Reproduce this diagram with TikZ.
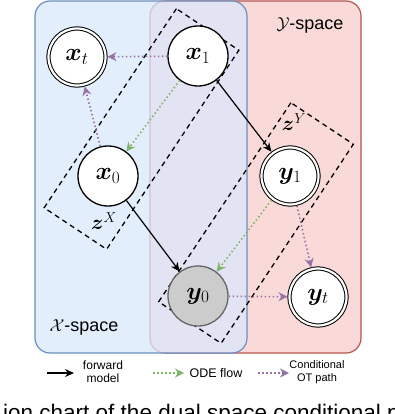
\documentclass[tikz,border=0pt]{standalone}
\usepackage{fontspec}
\setsansfont{Liberation Sans}
\usepackage{amsmath,bm}
\usetikzlibrary{arrows.meta,positioning}
\definecolor{xbg}{HTML}{DAE8FC}
\definecolor{xline}{HTML}{6C8EBF}
\definecolor{ybg}{HTML}{F8CECC}
\definecolor{yline}{HTML}{B85450}
\definecolor{odec}{HTML}{82B366}
\definecolor{otc}{HTML}{9673A6}
\definecolor{obsc}{HTML}{CCCCCC}
\definecolor{obsline}{HTML}{666666}
\tikzset{
  var/.style={circle,draw=black,line width=1.3pt,fill=white,minimum size=60pt,inner sep=0pt,font=\fontsize{26}{30}\selectfont},
  dvar/.style={var,line width=1pt,double,double distance=2.2pt,minimum size=57pt,outer sep=2pt},
  obs/.style={var,fill=obsc,draw=obsline},
  fwd/.style={-{Stealth[length=9pt,width=8pt]},line width=1.2pt,draw=black},
  ode/.style={-{Stealth[length=9pt,width=9pt]},line width=1.6pt,draw=odec,dash pattern=on 1.5pt off 2.5pt},
  ot/.style={ode,draw=otc},
  zbox/.style={draw,line width=1.3pt,dash pattern=on 5pt off 4pt,minimum width=239pt,minimum height=75pt,inner sep=0pt,rotate=56.4},
  zlbl/.style={font=\fontsize{20}{23}\selectfont},
  panel/.style={rounded corners=15pt,line width=1.2pt,fill opacity=0.75},
  spacelbl/.style={font=\sffamily\fontsize{18}{21}\selectfont},
  leg/.style={font=\sffamily\fontsize{12}{14}\selectfont,align=center},
}
\begin{document}
\begin{tikzpicture}[x=1pt,y=-1pt]
  \useasboundingbox (0,0) rectangle (394,414);
  % the two spaces
  \draw[panel,draw=yline,fill=ybg] (150,1) rectangle (361,353);
  \draw[panel,draw=xline,fill=xbg] (35,1) rectangle (247,353);
  \node[spacelbl] (xlbl) at (84,327) {$\mathcal{X}$-space};
  \node[spacelbl] (ylbl) at (310,25) {$\mathcal{Y}$-space};
  % latent pairs
  \node[zbox] (zx) at (141.5,129) {};
  \node[zbox] (zy) at (256,223) {};
  \node[zlbl] (zxl) at (104,221) {$\bm{z}^X$};
  \node[zlbl] (zyl) at (294,122) {$\bm{z}^Y$};
  % variables
  \node[dvar] (xt) at (77,57) {$\bm{x}_t$};
  \node[var] (xone) at (198,56) {$\bm{x}_1$};
  \node[var] (xzero) at (108,176) {$\bm{x}_0$};
  \node[dvar] (yone) at (290,176) {$\bm{y}_1$};
  \node[obs] (yzero) at (198,296) {$\bm{y}_0$};
  \node[dvar] (yt) at (318,297) {$\bm{y}_t$};
  % edges
  \draw[ot] (xone) -- (xt);
  \draw[ot] (xzero) -- (xt);
  \draw[ode] (xone) -- (xzero);
  \draw[fwd] (xone) -- (yone);
  \draw[fwd] (xzero) -- (yzero);
  \draw[ode] (yone) -- (yzero);
  \draw[ot] (yone) -- (yt);
  \draw[ot] (yzero) -- (yt);
  % legend
  \coordinate (f1) at (47,373); \coordinate (f2) at (74,373);
  \draw[fwd] (f1) -- (f2);
  \node[leg] (fl) at (103,372) {forward\\[-1pt]model};
  \coordinate (o1) at (153,373); \coordinate (o2) at (184,373);
  \draw[ode] (o1) -- (o2);
  \node[leg,font=\sffamily\fontsize{12.5}{14}\selectfont,anchor=west] (ol) at (186,373) {ODE flow};
  \coordinate (p1) at (258,373); \coordinate (p2) at (289,373);
  \draw[ot] (p1) -- (p2);
  \node[leg,font=\sffamily\fontsize{11}{13}\selectfont] (pl) at (317,372) {Conditional\\OT path};
  % caption, cut by the page
  \node[anchor=base west,inner sep=0pt,font=\sffamily\fontsize{22.5}{26}\selectfont] (cap) at (3,420) {ion chart of the dual space conditional p};
\end{tikzpicture}
\end{document}
